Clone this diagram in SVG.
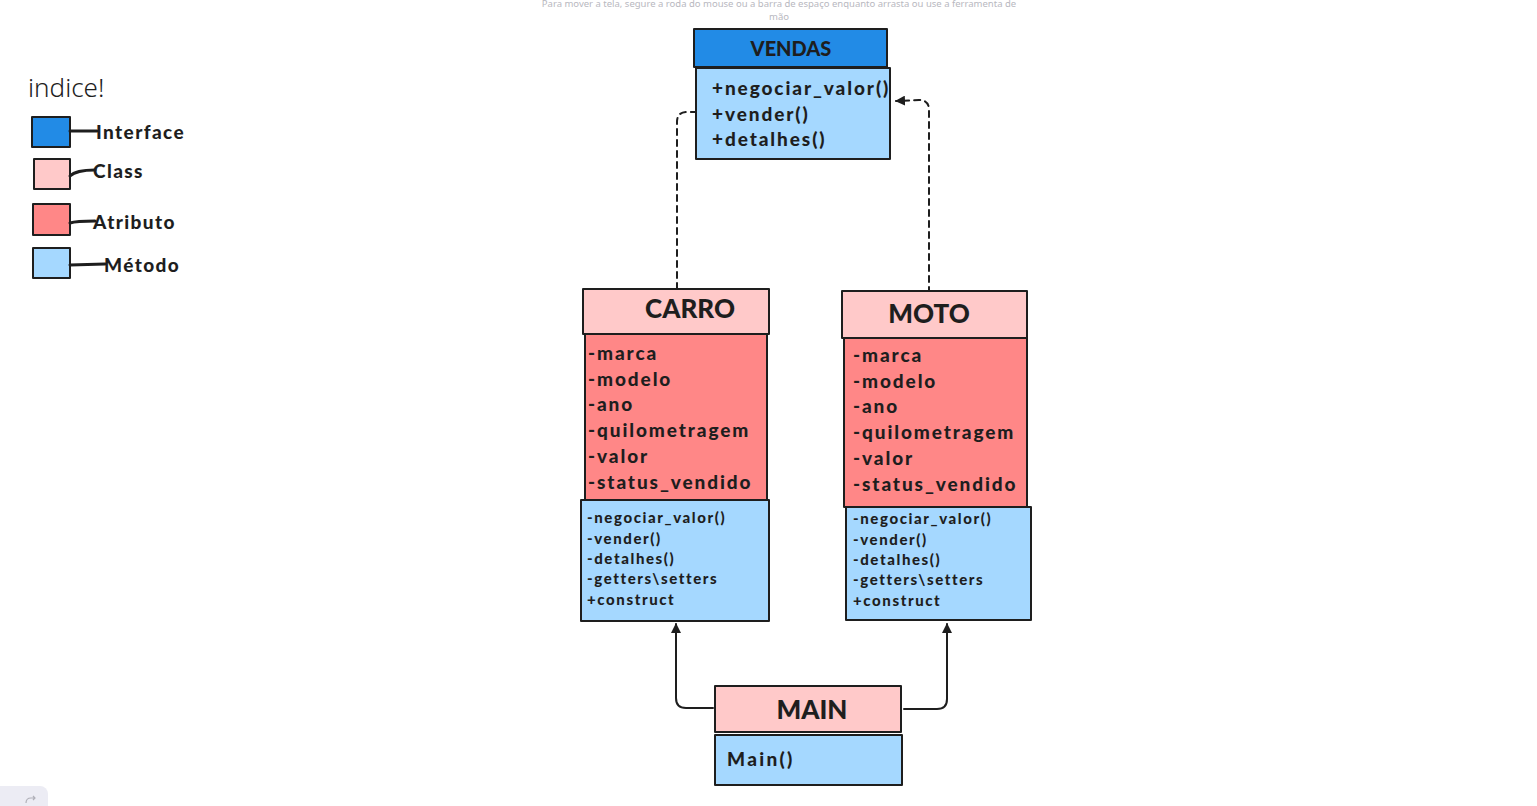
<svg xmlns="http://www.w3.org/2000/svg" width="1537" height="806" viewBox="0 0 1537 806">
<style>
.box{stroke:#1e1e1e;stroke-width:2;stroke-linejoin:round}
.blue{fill:#228be6}.lblue{fill:#a5d8ff}.pink{fill:#ffc9c9}.red{fill:#ff8787}
.t{font-family:Lato,"Open Sans","Liberation Sans",sans-serif;font-weight:900;fill:#1e1e1e}
.h{font-size:26px;text-anchor:middle}
.a{font-size:19px;letter-spacing:1.9px}
.m{font-size:15px;letter-spacing:1.6px}
.lg{font-size:19px;letter-spacing:1.4px}
.conn{fill:none;stroke:#1e1e1e;stroke-width:2;stroke-linecap:round}
.dash{stroke-dasharray:6 5}
.leg{fill:none;stroke:#1e1e1e;stroke-width:3;stroke-linecap:round}
</style>
<defs>
<marker id="tri" viewBox="0 0 10 10" refX="9" refY="5" markerWidth="5" markerHeight="5" orient="auto" markerUnits="strokeWidth">
<path d="M0,0 L10,5 L0,10 Z" fill="#1e1e1e"/>
</marker>
</defs>
<rect width="1537" height="806" fill="#ffffff"/>
<g id="hint" font-family="'Noto Sans','Liberation Sans',sans-serif" font-size="9.5" fill="#b8b8c0" text-anchor="middle">
<text x="779" y="7">Para mover a tela, segure a roda do mouse ou a barra de espaço enquanto arrasta ou use a ferramenta de</text>
<text x="779" y="20">mão</text>
</g>
<g id="toolbar">
<rect x="-10" y="786" width="58" height="30" rx="8" fill="#ececf4"/>
<path d="M26,803 q0,-5 5,-5 h4 M33,796 l2,2 l-2,2" fill="none" stroke="#b0b0b8" stroke-width="1.2"/>
</g>
<g id="legend">
<text x="28" y="97" font-family="'Noto Sans','DejaVu Sans',sans-serif" font-size="26" font-weight="300" fill="#1e1e1e">indice!</text>
<rect class="box blue" x="32" y="117" width="38" height="30"/>
<path class="leg" d="M70,131 L97,131"/>
<text class="t lg" x="96" y="139">Interface</text>
<rect class="box pink" x="34" y="159" width="36" height="30"/>
<path class="leg" d="M70,176 Q76,170 95,170"/>
<text class="t lg" x="93" y="178">Class</text>
<rect class="box red" x="33" y="204" width="37" height="31"/>
<path class="leg" d="M70,223 Q76,221 95,221"/>
<text class="t lg" x="93" y="229">Atributo</text>
<rect class="box lblue" x="33" y="248" width="37" height="30"/>
<path class="leg" d="M70,265 L105,264"/>
<text class="t lg" x="104" y="272">Método</text>
</g>
<g id="connectors">
<path class="conn dash" d="M677,289 L677,122 Q677,112 687,112 L706,112" marker-end="url(#tri)"/>
<path class="conn dash" d="M929,293 L929,110 Q929,100 919,100 L896,101" marker-end="url(#tri)"/>
<path class="conn" d="M713,708 L686,708 Q676,708 676,698 L676,624" marker-end="url(#tri)"/>
<path class="conn" d="M904,709 L937,709 Q947,709 947,699 L947,624" marker-end="url(#tri)"/>
</g>
<g id="vendas">
<rect class="box blue" x="694" y="29" width="193" height="38"/>
<text class="t" x="791" y="56" font-size="20" text-anchor="middle">VENDAS</text>
<rect class="box lblue" x="696" y="68" width="194" height="91"/>
<text class="t a" x="712" y="95">+negociar_valor()</text>
<text class="t a" x="712" y="121">+vender()</text>
<text class="t a" x="712" y="146">+detalhes()</text>
</g>
<g id="carro">
<rect class="box pink" x="583" y="289" width="186" height="45"/>
<text class="t h" x="690" y="318">CARRO</text>
<rect class="box red" x="585" y="334" width="182" height="166"/>
<text class="t a" x="588" y="360">-marca</text>
<text class="t a" x="588" y="386">-modelo</text>
<text class="t a" x="588" y="411">-ano</text>
<text class="t a" x="588" y="437">-quilometragem</text>
<text class="t a" x="588" y="463">-valor</text>
<text class="t a" x="588" y="489">-status_vendido</text>
<rect class="box lblue" x="581" y="500" width="188" height="121"/>
<text class="t m" x="587" y="523">-negociar_valor()</text>
<text class="t m" x="587" y="544">-vender()</text>
<text class="t m" x="587" y="564">-detalhes()</text>
<text class="t m" x="587" y="584">-getters\setters</text>
<text class="t m" x="587" y="605">+construct</text>
</g>
<g id="moto">
<rect class="box pink" x="842" y="291" width="185" height="47"/>
<text class="t h" x="929" y="323">MOTO</text>
<rect class="box red" x="844" y="338" width="183" height="169"/>
<text class="t a" x="853" y="362">-marca</text>
<text class="t a" x="853" y="388">-modelo</text>
<text class="t a" x="853" y="413">-ano</text>
<text class="t a" x="853" y="439">-quilometragem</text>
<text class="t a" x="853" y="465">-valor</text>
<text class="t a" x="853" y="491">-status_vendido</text>
<rect class="box lblue" x="846" y="507" width="185" height="113"/>
<text class="t m" x="853" y="524">-negociar_valor()</text>
<text class="t m" x="853" y="545">-vender()</text>
<text class="t m" x="853" y="565">-detalhes()</text>
<text class="t m" x="853" y="585">-getters\setters</text>
<text class="t m" x="853" y="606">+construct</text>
</g>
<g id="main">
<rect class="box pink" x="715" y="686" width="186" height="46"/>
<text class="t h" x="812" y="719">MAIN</text>
<rect class="box lblue" x="715" y="735" width="187" height="50"/>
<text class="t a" x="727" y="766" style="letter-spacing:2.3px">Main()</text>
</g>
</svg>
